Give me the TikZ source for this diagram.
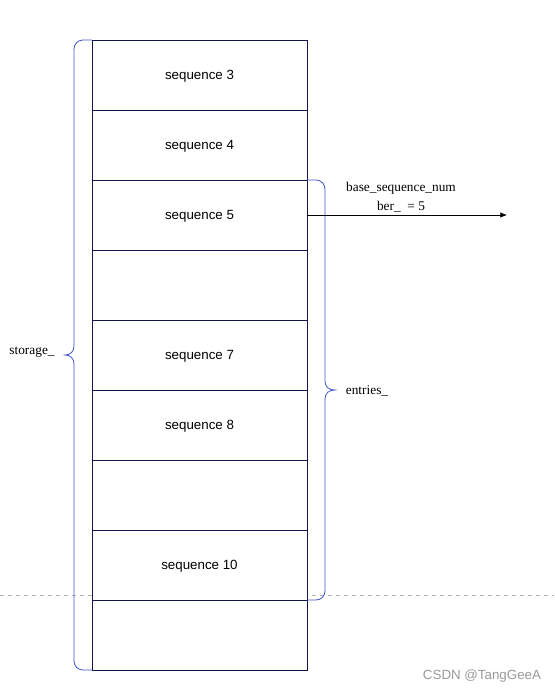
\documentclass[tikz,border=0pt]{standalone}
\usepackage{fontspec}
\setmainfont{Liberation Serif}
\setsansfont{Liberation Sans}
\usepackage{tikz}
\usetikzlibrary{positioning,arrows.meta}
\usepackage{xcolor}
\definecolor{cellline}{HTML}{12164A}
\definecolor{braceline}{HTML}{4058C8}
\definecolor{guide}{HTML}{B4B4B4}

\tikzset{
	cell/.style={draw=cellline, fill=white, minimum width=161.25pt, minimum height=52.5pt, inner sep=0pt, outer sep=0pt, text depth=0pt, font=\sffamily},
	curly/.style={draw=braceline, line width=0.6pt},
	note/.style={inner sep=1pt}
}

\begin{document}
\begin{tikzpicture}[x=0.75pt, y=-0.75pt]
\useasboundingbox (0,0) rectangle (554,693);
% guide line behind the cells
\coordinate (gl) at (0,595);
\coordinate (gr) at (554,595);
\draw[guide, dashed, line width=0.5pt] (gl) -- (gr);
% storage cells
\node[cell, anchor=north west] (c1) at (92,40) {sequence 3};
\foreach \i/\txt [remember=\i as \j (initially 1)] in {2/sequence 4, 3/sequence 5, 4/{}, 5/sequence 7, 6/sequence 8, 7/{}, 8/sequence 10, 9/{}}{
	\node[cell, below=0pt of c\j] (c\i) {\txt};
}
% braces
\draw[curly] (c1.north west) -- (83,40) arc[start angle=270, end angle=180, radius=9]
	-- (74,346) .. controls (74,352) and (70,355) .. (65,355)
	.. controls (70,355) and (74,358) .. (74,364)
	-- (74,661) arc[start angle=180, end angle=90, radius=9] -- (c9.south west);
\draw[curly] (c3.north east) -- (316,180) arc[start angle=270, end angle=360, radius=9]
	-- (325,381) .. controls (325,387) and (329,390) .. (335,390)
	.. controls (329,390) and (325,393) .. (325,399)
	-- (325,591) arc[start angle=0, end angle=90, radius=9] -- (c8.south east);
\node[note] (storage) at (32,352) {storage\_};
\node[note] (entries) at (367,391) {entries\_};
% base pointer
\coordinate (tip) at (507,215);
\draw[black, line width=0.5pt, -{Latex[length=5pt, width=4pt]}] (c3.east) -- (tip);
\node[note] (base1) at (401,188) {base\_sequence\_num};
\node[note] (base2) at (401,207) {ber\_ \ = 5};
\node[font=\sffamily, text=black!40] (mark) at (482,676) {CSDN @TangGeeA};
\end{tikzpicture}
\end{document}
